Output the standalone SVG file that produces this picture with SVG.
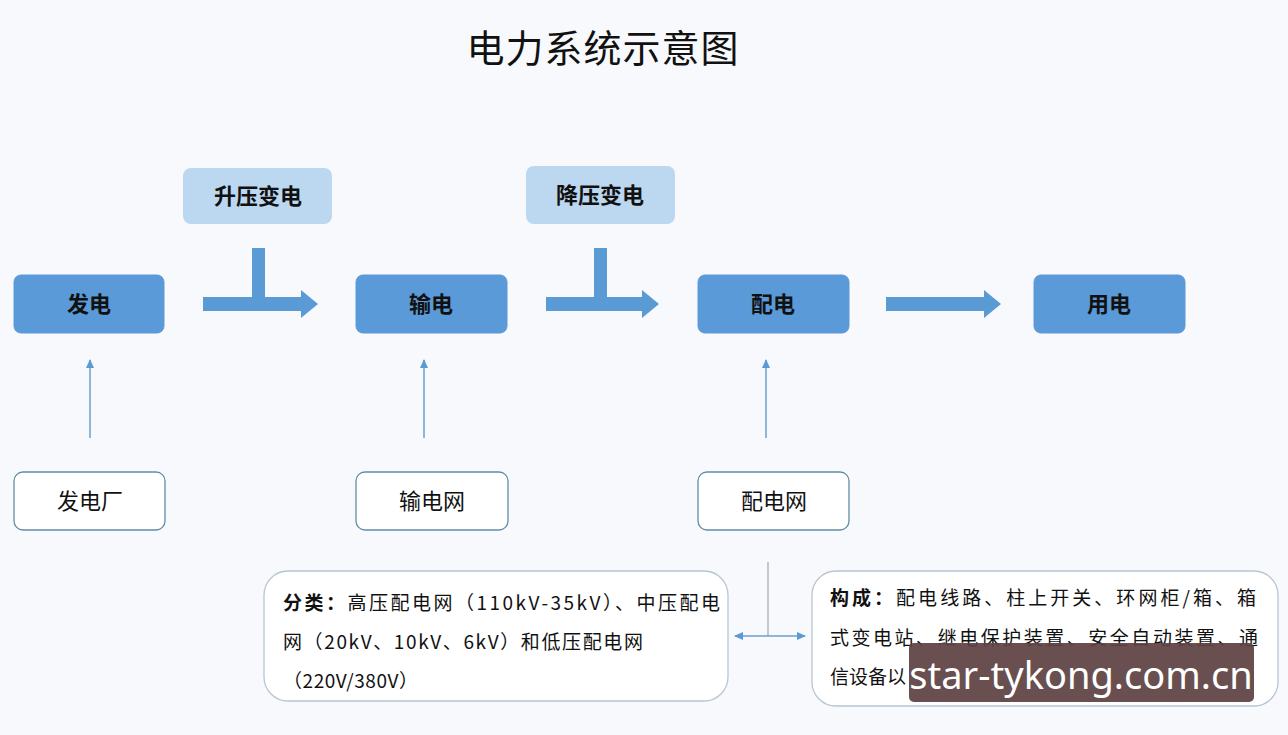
<svg xmlns="http://www.w3.org/2000/svg" width="1288" height="735" viewBox="0 0 1288 735">
<style>
.t{font-family:"Noto Sans CJK SC","Liberation Sans",sans-serif;fill:#111}
.main{fill:#5a9ad8;stroke:#5a9ad8}
.top{fill:#bcd7f0}
.sub{fill:#fff;stroke:#5f8fa6;stroke-width:1.3}
.note{fill:#fff;stroke:#b6c6d2;stroke-width:1.3}
.big{fill:#5b9bd5}
.thin{stroke:#6a9fd0;stroke-width:1.5;fill:none}
.lbl{font-size:22px;font-weight:bold;text-anchor:middle}
.sl{font-size:22px;text-anchor:middle}
.nt{font-size:19px}
</style>
<defs>
<marker id="ah" markerWidth="10" markerHeight="10" refX="8" refY="5" orient="auto-start-reverse" markerUnits="userSpaceOnUse">
<path d="M0,1 L9,5 L0,9 Z" fill="#5b9bd5"/>
</marker>
</defs>
<rect width="1288" height="735" fill="#f8f9fc"/>
<text class="t" x="603" y="62" font-size="38" text-anchor="middle" letter-spacing="1">电力系统示意图</text>

<g id="connectors">
<path class="big" d="M203,297 H252 V248 H265 V297 H301 V290 L318,304 L301,318 V311 H203 Z"/>
<path class="big" d="M546,297 H594 V248 H607 V297 H642 V290 L659,304 L642,318 V311 H546 Z"/>
<path class="big" d="M886,297 H984 V290 L1001,304 L984,318 V311 H886 Z"/>
<line class="thin" x1="90" y1="438" x2="90" y2="360" marker-end="url(#ah)"/>
<line class="thin" x1="424" y1="438" x2="424" y2="360" marker-end="url(#ah)"/>
<line class="thin" x1="766" y1="438" x2="766" y2="360" marker-end="url(#ah)"/>
<line x1="768" y1="562" x2="768" y2="636" stroke="#9aa9b8" stroke-width="1.2"/>
<line class="thin" x1="735" y1="636" x2="805" y2="636" marker-start="url(#ah)" marker-end="url(#ah)"/>
</g>

<g id="n-step-up"><rect class="top" x="183" y="168" width="149" height="56" rx="8"/><text class="t lbl" x="258" y="204">升压变电</text></g>
<g id="n-step-down"><rect class="top" x="526" y="166" width="149" height="58" rx="8"/><text class="t lbl" x="600" y="203">降压变电</text></g>

<g id="n-gen"><rect class="main" x="14" y="275" width="150" height="58" rx="7"/><text class="t lbl" x="89" y="312">发电</text></g>
<g id="n-trans"><rect class="main" x="356" y="275" width="151" height="58" rx="7"/><text class="t lbl" x="431" y="312">输电</text></g>
<g id="n-dist"><rect class="main" x="698" y="275" width="151" height="58" rx="7"/><text class="t lbl" x="773" y="312">配电</text></g>
<g id="n-use"><rect class="main" x="1034" y="275" width="151" height="58" rx="7"/><text class="t lbl" x="1109" y="312">用电</text></g>

<g id="n-plant"><rect class="sub" x="14" y="472" width="151" height="58" rx="9"/><text class="t sl" x="90" y="509">发电厂</text></g>
<g id="n-tgrid"><rect class="sub" x="356" y="472" width="152" height="58" rx="9"/><text class="t sl" x="432" y="509">输电网</text></g>
<g id="n-dgrid"><rect class="sub" x="698" y="472" width="151" height="58" rx="9"/><text class="t sl" x="774" y="509">配电网</text></g>

<g id="n-class">
<rect class="note" x="264" y="571" width="464" height="130" rx="24"/>
<text class="t nt" x="283" y="610" textLength="437" lengthAdjust="spacing"><tspan font-weight="bold">分类：</tspan>高压配电网（110kV-35kV）、中压配电</text>
<text class="t nt" x="283" y="649" textLength="360" lengthAdjust="spacing">网（20kV、10kV、6kV）和低压配电网</text>
<text class="t nt" x="283" y="688" textLength="135" lengthAdjust="spacing">（220V/380V）</text>
</g>

<g id="n-comp">
<rect class="note" x="812" y="571" width="466" height="135" rx="24"/>
<text class="t nt" x="830" y="605" textLength="426" lengthAdjust="spacing"><tspan font-weight="bold">构成：</tspan>配电线路、柱上开关、环网柜/箱、箱</text>
<text class="t nt" x="830" y="645" textLength="428" lengthAdjust="spacing">式变电站、继电保护装置、安全自动装置、通</text>
<text class="t nt" x="830" y="684" textLength="76" lengthAdjust="spacing">信设备以</text>
</g>

<g id="watermark">
<rect x="909" y="643" width="345" height="59" rx="5" fill="#5e4242" fill-opacity="0.93"/>
<text x="1081" y="689" font-family="'Noto Sans','Open Sans',sans-serif" font-size="38" fill="#fff" text-anchor="middle">star-tykong.com.cn</text>
</g>
</svg>
